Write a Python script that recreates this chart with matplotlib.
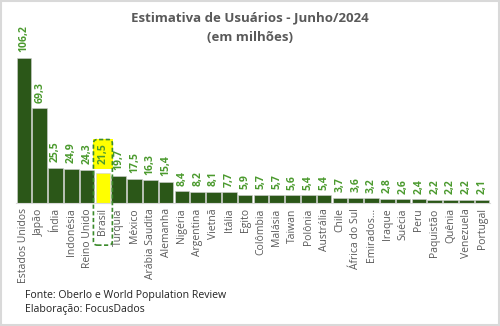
import matplotlib
matplotlib.use('Agg')
import matplotlib.pyplot as plt
import matplotlib.transforms as mtransforms
from matplotlib.patches import FancyBboxPatch, Rectangle

plt.rcParams['font.family'] = ['Open Sans', 'DejaVu Sans']

paises = ['Estados Unidos', 'Japão', 'Índia', 'Indonésia', 'Reino Unido', 'Brasil',
          'Turquia', 'México', 'Arábia Saudita', 'Alemanha', 'Nigéria', 'Argentina',
          'Vietnã', 'Itália', 'Egito', 'Colômbia', 'Malásia', 'Taiwan', 'Polônia',
          'Austrália', 'Chile', 'África do Sul', 'Emirados...', 'Iraque', 'Suécia',
          'Peru', 'Paquistão', 'Quênia', 'Venezuela', 'Portugal']
usuarios = [106.2, 69.3, 25.5, 24.9, 24.3, 21.5, 19.7, 17.5, 16.3, 15.4, 8.4, 8.2,
            8.1, 7.7, 5.9, 5.7, 5.7, 5.6, 5.4, 5.4, 3.7, 3.6, 3.2, 2.8, 2.6, 2.4,
            2.2, 2.2, 2.2, 2.1]
destaque = 'Brasil'

verde = '#2b5718'
verde_txt = '#4b9a2e'
amarelo = '#ffff00'

fig = plt.figure(figsize=(5, 3.26), dpi=100)
ax = fig.add_axes([0.032, 0.378, 0.948, 0.545])

x = list(range(len(paises)))
cores = [amarelo if p == destaque else verde for p in paises]
ax.bar(x, usuarios, width=0.93, color=cores, edgecolor='#d0d0d0', linewidth=0.4)

for xi, v, p in zip(x, usuarios, paises):
    lbl = f'{v:.1f}'.replace('.', ',')
    if p == destaque:
        ax.annotate(lbl, (xi, v), xytext=(0, 6.5), textcoords='offset points',
                    rotation=90, ha='center', va='bottom', fontsize=7.5,
                    color=verde_txt, fontweight='bold',
                    bbox=dict(boxstyle='square,pad=0.42', fc=amarelo, ec='none'))
    else:
        ax.annotate(lbl, (xi, v), xytext=(0, 4), textcoords='offset points',
                    rotation=90, ha='center', va='bottom', fontsize=7.5,
                    color=verde_txt, fontweight='bold')

ax.set_xlim(-0.5, len(paises) - 0.5)
ax.set_ylim(0, 130)
ax.set_xticks(x)
ax.set_xticklabels(paises, rotation=90, fontsize=7.5, color='#595959')
ax.tick_params(axis='x', length=0, pad=4)
ax.set_yticks([])
for s in ['top', 'right', 'left']:
    ax.spines[s].set_visible(False)
ax.spines['bottom'].set_color('#d9d9d9')
ax.spines['bottom'].set_linewidth(0.8)

# caixa tracejada em volta do Brasil
ib = paises.index(destaque)
trans = mtransforms.blended_transform_factory(ax.transData, fig.transFigure)
caixa = FancyBboxPatch((ib - 0.6, 0.248), 1.2, 0.324,
                       boxstyle='round,pad=0,rounding_size=0.25',
                       transform=trans, fill=False, edgecolor='#3a8a2a',
                       linestyle=(0, (2.5, 1.5)), linewidth=1.2, clip_on=False,
                       mutation_aspect=0.05, zorder=5)
fig.add_artist(caixa)

fig.text(0.5, 0.945, 'Estimativa de Usuários - Junho/2024', ha='center', va='center',
         fontsize=9.5, fontweight='bold', color='#595959')
fig.text(0.5, 0.885, '(em milhões)', ha='center', va='center',
         fontsize=9.5, fontweight='bold', color='#595959')

fig.text(0.05, 0.095, 'Fonte: Oberlo e World Population Review', ha='left', va='center',
         fontsize=7.6, color='#222222')
fig.text(0.05, 0.052, 'Elaboração: FocusDados', ha='left', va='center',
         fontsize=7.6, color='#222222')

fig.add_artist(Rectangle((0.002, 0.003), 0.996, 0.994, transform=fig.transFigure,
                         fill=False, edgecolor='#d9d9d9', linewidth=1.5))

fig.savefig('out.png', dpi=100)
